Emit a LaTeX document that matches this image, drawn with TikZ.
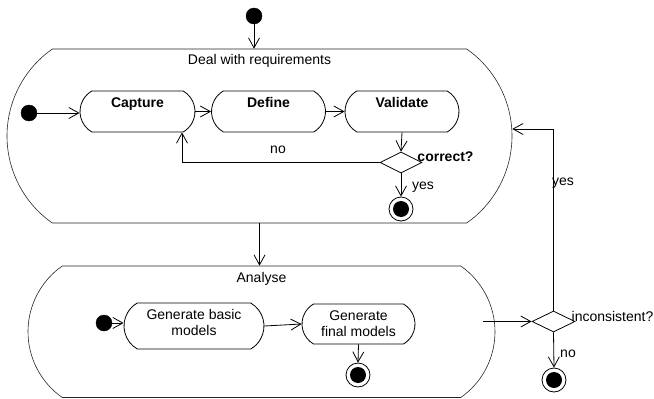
\documentclass[tikz,border=0pt]{standalone}
\usepackage{fontspec}
\setmainfont{Liberation Sans}
\usetikzlibrary{shapes.misc,shapes.geometric,arrows.meta}
\begin{document}
\begin{tikzpicture}[x=1pt,y=-1pt,
  every node/.style={font=\fontsize{14}{16}\selectfont},
  superstate/.style={draw=black!85, line width=0.6pt, rounded rectangle, rounded rectangle arc length=110, inner sep=0pt},
  action/.style={draw, line width=0.8pt, rounded rectangle, rounded rectangle arc length=120, inner sep=0pt},
  boldtext/.style={font=\fontsize{14}{16}\selectfont\bfseries},
  initial/.style={circle, fill=black, draw=black, minimum size=16pt, inner sep=0pt},
  final/.style={circle, draw=black, line width=0.8pt, minimum size=24pt, inner sep=0pt,
    path picture={\fill[black] (path picture bounding box.center) circle (8pt);}},
  decision/.style={diamond, draw, line width=0.8pt, inner sep=0pt},
  lbl/.style={inner sep=0pt},
  arr/.style={draw, line width=0.8pt, -{Straight Barb[length=10pt,width=11pt]}}
]
\useasboundingbox (0,0) rectangle (654,399);

% super states
\node[superstate, minimum width=505pt, text height=15pt, text depth=159pt] (state1) at (259.5,136) {Deal with requirements};
\node[superstate, minimum width=467pt, text height=16pt, text depth=115.5pt] (state2) at (261.5,331.75) {Analyse};

% initial states
\node[initial] (init0) at (254,16) {};
\node[initial] (init1) at (29,113) {};
\node[initial] (init2) at (104,323) {};

% actions in first state
\node[action, boldtext, minimum width=115pt, text height=16pt, text depth=25pt] (capture) at (137.5,111.5) {Capture};
\node[action, boldtext, minimum width=114pt, text height=16pt, text depth=25pt] (define) at (268.5,111.5) {Define};
\node[action, boldtext, minimum width=114pt, text height=16pt, text depth=25pt] (validate) at (402,111.5) {Validate};

% actions in second state
\node[action, align=center, minimum width=140pt, text height=32pt, text depth=14pt] (gbm) at (194,326) {Generate basic\\models};
\node[action, align=center, minimum width=113pt, text height=32pt, text depth=8pt] (gfm) at (358.5,324) {Generate\\final models};

% decisions
\node[decision, minimum width=42pt, minimum height=21pt] (correct) at (401,162.5) {};
\node[decision, minimum width=43pt, minimum height=21pt] (incons) at (553.5,321.5) {};

% final states
\node[final] (final1) at (401,209) {};
\node[final] (final2) at (358,375) {};
\node[final] (final3) at (554,380) {};

\coordinate (src) at (483,321.5);

% connectors
\draw[arr] (init0.south) -- (init0.south |- state1.north);
\draw[arr] (init1.east) -- (init1.east -| capture.west);
\draw[arr] (capture.east) -- (define.west);
\draw[arr] (define.east) -- (validate.west);
\draw[arr] (validate.south) -- (correct.north);
\draw[arr] (correct.west) -| ([xshift=44.5pt]capture.south);
\draw[arr] (correct.south) -- (final1.north);
\draw[arr] (state1.south) -- (state1.south |- state2.north);
\draw[arr] (init2.east) -- (init2.east -| gbm.west);
\draw[arr] (gbm.east) -- (gfm.west);
\draw[arr] (gfm.south) -- (final2.north);
\draw[arr] (src) -- (incons.west);
\draw[arr] (incons.north) |- ([yshift=7pt]state1.east);
\draw[arr] (incons.south) -- (final3.north);

% labels
\node[lbl] (lno1) at (278,150) {no};
\node[lbl] (lyes1) at (423,187) {yes};
\node[lbl, boldtext] (lcorrect) at (445.5,157) {correct?};
\node[lbl] (lyes2) at (563,183) {yes};
\node[lbl] (lincons) at (612.5,316) {inconsistent?};
\node[lbl] (lno2) at (568,354) {no};
\end{tikzpicture}
\end{document}
